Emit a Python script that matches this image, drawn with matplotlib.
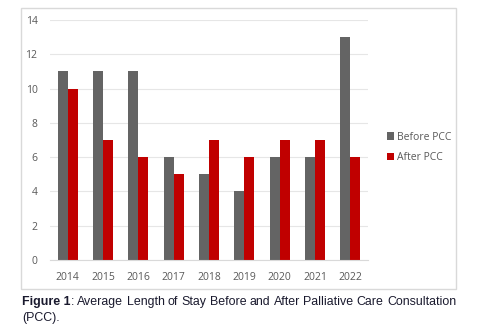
import numpy as np
import matplotlib.pyplot as plt
from matplotlib.patches import Rectangle

years = ["2014", "2015", "2016", "2017", "2018", "2019", "2020", "2021", "2022"]
before_pcc = [11, 11, 11, 6, 5, 4, 6, 6, 13]
after_pcc = [10, 7, 6, 5, 7, 6, 7, 7, 6]

W, H = 482, 325
fig = plt.figure(figsize=(W / 100, H / 100), dpi=100)

# outer frame around the chart
fig.patches.append(Rectangle((21 / W, 1 - 289 / H), 435 / W, 281 / H,
                             transform=fig.transFigure, fill=False,
                             edgecolor="#d9d9d9", lw=1.0))
fig.patches.append(Rectangle((21 / W, 1 - 290 / H), 436 / W, 1.5 / H,
                             transform=fig.transFigure, color="#d9d9d9", lw=0))

ax = fig.add_axes([50 / W, 1 - 260 / H, 318 / W, 240 / H])
x = np.arange(len(years))
bw = 0.285
ax.bar(x - bw / 2, before_pcc, bw, color="#646464", label="Before PCC")
ax.bar(x + bw / 2, after_pcc, bw, color="#c00000", label="After PCC")

ax.set_xlim(-0.5, len(years) - 0.5)
ax.set_ylim(0, 14)
ax.set_yticks(range(0, 15, 2))
ax.set_xticks(x)
ax.set_xticklabels(years)
ax.yaxis.grid(True, color="#e6e6e6", lw=0.8)
ax.set_axisbelow(True)
for s in ["top", "right", "left"]:
    ax.spines[s].set_visible(False)
ax.spines["bottom"].set_color("#d9d9d9")
ax.tick_params(length=0, labelsize=7.5, labelcolor="#595959", pad=9)
for lab in ax.get_xticklabels() + ax.get_yticklabels():
    lab.set_family("Open Sans")

leg = ax.legend(loc="center left", bbox_to_anchor=(1.03, 0.47), frameon=False,
                handlelength=0.7, handleheight=0.7, handletextpad=0.3,
                labelspacing=0.9, prop={"family": "Open Sans", "size": 7.5})
for t in leg.get_texts():
    t.set_color("#595959")

# caption, first line justified
renderer = fig.canvas.get_renderer()
line1 = ["Figure 1:", "Average", "Length", "of", "Stay", "Before", "and",
         "After", "Palliative", "Care", "Consultation"]
fs = 8.9
cap_color = "#1a1a2e"
x0, x1, y1 = 22, 456, 302
widths = []
texts = []
for i, w in enumerate(line1):
    if i == 0:
        t = fig.text(0, 0, "Figure 1", fontweight="bold", family="Liberation Sans",
                     fontsize=fs, va="center", color=cap_color)
        tb = fig.text(0, 0, ":", family="Liberation Sans", fontsize=fs,
                      va="center", color=cap_color)
        texts.append((t, tb))
        wa = t.get_window_extent(renderer).width
        wb = tb.get_window_extent(renderer).width
        widths.append(wa + wb)
    else:
        t = fig.text(0, 0, w, family="Liberation Sans", fontsize=fs, va="center",
                     color=cap_color)
        texts.append((t,))
        widths.append(t.get_window_extent(renderer).width)
gap = (x1 - x0 - sum(widths)) / (len(line1) - 1)
cx = x0
for i, grp in enumerate(texts):
    if len(grp) == 2:
        grp[0].set_position((cx / W, 1 - y1 / H))
        wa = grp[0].get_window_extent(renderer).width
        grp[1].set_position(((cx + wa) / W, 1 - y1 / H))
    else:
        grp[0].set_position((cx / W, 1 - y1 / H))
    cx += widths[i] + gap
fig.text(x0 / W, 1 - 318 / H, "(PCC).", family="Liberation Sans", fontsize=fs,
         va="center", color=cap_color)

fig.savefig("out.png", dpi=100)
